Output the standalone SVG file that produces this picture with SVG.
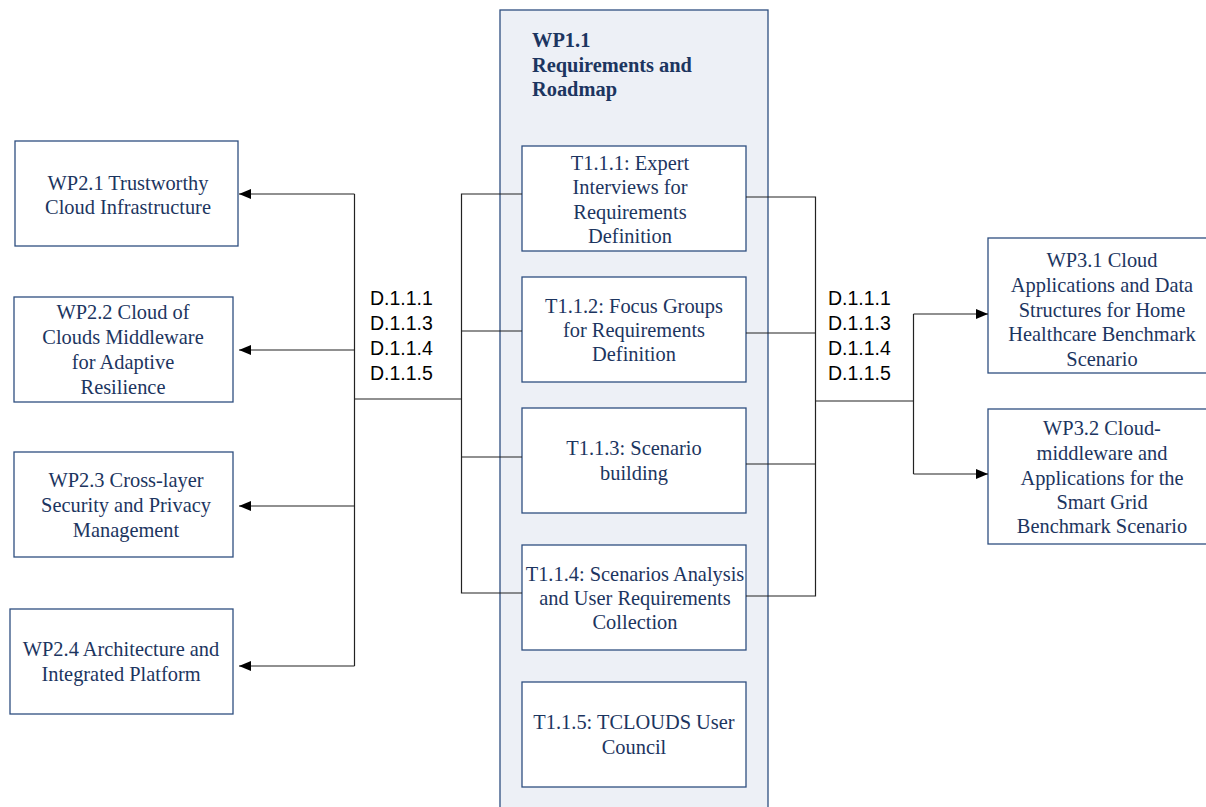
<svg xmlns="http://www.w3.org/2000/svg" width="1206" height="807" viewBox="0 0 1206 807">
<style>
.box{fill:#ffffff;stroke:#2e4f80;stroke-width:1.3}
.cont{fill:#edf0f6;stroke:#2e4f80;stroke-width:1.3}
.t{font-family:"Liberation Serif","Times New Roman",serif;font-size:20.4px;fill:#1c3560;text-anchor:middle}
.tb{font-family:"Liberation Serif","Times New Roman",serif;font-size:20.4px;font-weight:bold;fill:#1c3560}
.d{font-family:"Liberation Sans",Arial,sans-serif;font-size:19.5px;fill:#000000}
.c{fill:none;stroke:#222222;stroke-width:1.2}
</style>
<defs>
<marker id="ah" viewBox="0 0 12 10" refX="12" refY="5" markerWidth="12" markerHeight="10" markerUnits="userSpaceOnUse" orient="auto">
<path d="M0,0 L12,5 L0,10 z" fill="#000000"/>
</marker>
</defs>
<rect width="1206" height="807" fill="#ffffff"/>
<g id="wp11">
<rect class="cont" x="500" y="10" width="268" height="820"/>
<text class="tb" x="532" y="47">WP1.1</text>
<text class="tb" x="532" y="72">Requirements and</text>
<text class="tb" x="532" y="96">Roadmap</text>
</g>
<g id="t111">
<rect class="box" x="522" y="146" width="224" height="105"/>
<text class="t" x="630" y="170">T1.1.1: Expert</text>
<text class="t" x="630" y="194">Interviews for</text>
<text class="t" x="630" y="219">Requirements</text>
<text class="t" x="630" y="243">Definition</text>
</g>
<g id="t112">
<rect class="box" x="522" y="277" width="224" height="105"/>
<text class="t" x="634" y="313">T1.1.2: Focus Groups</text>
<text class="t" x="634" y="337">for Requirements</text>
<text class="t" x="634" y="361">Definition</text>
</g>
<g id="t113">
<rect class="box" x="522" y="408" width="224" height="105"/>
<text class="t" x="634" y="455">T1.1.3: Scenario</text>
<text class="t" x="634" y="480">building</text>
</g>
<g id="t114">
<rect class="box" x="522" y="545" width="224" height="105"/>
<text class="t" x="635" y="581">T1.1.4: Scenarios Analysis</text>
<text class="t" x="635" y="605">and User Requirements</text>
<text class="t" x="635" y="629">Collection</text>
</g>
<g id="t115">
<rect class="box" x="522" y="682" width="224" height="105"/>
<text class="t" x="634" y="729">T1.1.5: TCLOUDS User</text>
<text class="t" x="634" y="754">Council</text>
</g>
<g id="wp21">
<rect class="box" x="15" y="141" width="223" height="105"/>
<text class="t" x="128" y="190">WP2.1 Trustworthy</text>
<text class="t" x="128" y="214">Cloud Infrastructure</text>
</g>
<g id="wp22">
<rect class="box" x="14" y="297" width="219" height="105"/>
<text class="t" x="123" y="319">WP2.2 Cloud of</text>
<text class="t" x="123" y="344">Clouds Middleware</text>
<text class="t" x="123" y="369">for Adaptive</text>
<text class="t" x="123" y="394">Resilience</text>
</g>
<g id="wp23">
<rect class="box" x="14" y="452" width="219" height="105"/>
<text class="t" x="126" y="487">WP2.3 Cross-layer</text>
<text class="t" x="126" y="512">Security and Privacy</text>
<text class="t" x="126" y="537">Management</text>
</g>
<g id="wp24">
<rect class="box" x="10" y="609" width="223" height="105"/>
<text class="t" x="121" y="656">WP2.4 Architecture and</text>
<text class="t" x="121" y="681">Integrated Platform</text>
</g>
<g id="wp31">
<rect class="box" x="988" y="238" width="228" height="135"/>
<text class="t" x="1102" y="267">WP3.1 Cloud</text>
<text class="t" x="1102" y="292">Applications and Data</text>
<text class="t" x="1102" y="317">Structures for Home</text>
<text class="t" x="1102" y="341">Healthcare Benchmark</text>
<text class="t" x="1102" y="366">Scenario</text>
</g>
<g id="wp32">
<rect class="box" x="988" y="409" width="228" height="135"/>
<text class="t" x="1102" y="435">WP3.2 Cloud-</text>
<text class="t" x="1102" y="460">middleware and</text>
<text class="t" x="1102" y="485">Applications for the</text>
<text class="t" x="1102" y="509">Smart Grid</text>
<text class="t" x="1102" y="533">Benchmark Scenario</text>
</g>
<g id="connectors">
<path class="c" d="M522,194 H461.5 V593 H522 M461.5,331 H522 M461.5,457 H522"/>
<path class="c" d="M461.5,399 H354.5"/>
<path class="c" d="M354.5,194 V666"/>
<path class="c" d="M354.5,194 H239" marker-end="url(#ah)"/>
<path class="c" d="M354.5,350 H239" marker-end="url(#ah)"/>
<path class="c" d="M354.5,506 H239" marker-end="url(#ah)"/>
<path class="c" d="M354.5,666 H239" marker-end="url(#ah)"/>
<path class="c" d="M746,197 H815.5 V596 H746 M815.5,333 H746 M815.5,464 H746"/>
<path class="c" d="M815.5,401 H913.5"/>
<path class="c" d="M913.5,314 V474"/>
<path class="c" d="M913.5,314 H988" marker-end="url(#ah)"/>
<path class="c" d="M913.5,474 H988" marker-end="url(#ah)"/>
<text class="d" x="370" y="305">D.1.1.1</text>
<text class="d" x="370" y="330">D.1.1.3</text>
<text class="d" x="370" y="355">D.1.1.4</text>
<text class="d" x="370" y="380">D.1.1.5</text>
<text class="d" x="828" y="305">D.1.1.1</text>
<text class="d" x="828" y="330">D.1.1.3</text>
<text class="d" x="828" y="355">D.1.1.4</text>
<text class="d" x="828" y="380">D.1.1.5</text>
</g>
</svg>
